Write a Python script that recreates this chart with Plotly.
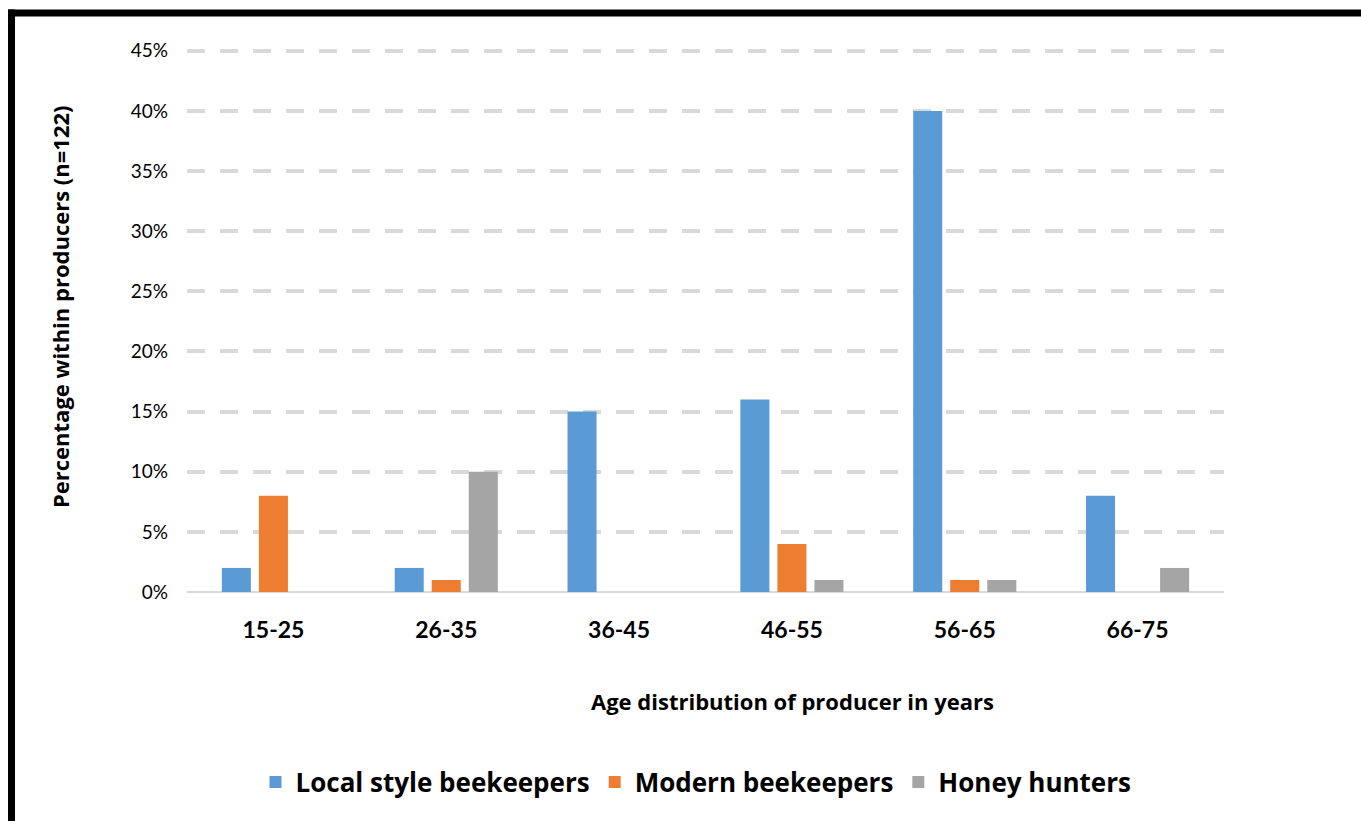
import plotly.graph_objects as go

categories = ["15-25", "26-35", "36-45", "46-55", "56-65", "66-75"]
local_style = [2, 2, 15, 16, 40, 8]
modern = [8, 1, 0, 4, 1, 0]
honey_hunters = [0, 10, 0, 1, 1, 2]

series_names = ["Local style beekeepers", "Modern beekeepers", "Honey hunters"]
colors = ["#5B9BD5", "#ED7D31", "#A5A5A5"]

FONT = "Lato"
TFONT = "Open Sans"
W, H = 1361, 821
YMAX = 45.15
L, R, B = 187, 137, 229
T = round(592 - 541 * YMAX / 45)
pw, ph = W - L - R, H - T - B


def px_x(x):
    return (x - L) / pw


def px_y(y):
    return (H - B - y) / ph


fig = go.Figure()
for name, vals, col in zip(series_names, [local_style, modern, honey_hunters], colors):
    fig.add_trace(go.Bar(
        x=categories, y=vals, name=name,
        marker=dict(color=col, line=dict(width=0)),
    ))

fig.update_layout(
    width=W, height=H,
    margin=dict(l=L, r=R, t=T, b=B),
    paper_bgcolor="white", plot_bgcolor="white",
    barmode="group", bargap=0.357, bargroupgap=0.216,
    font=dict(family=FONT, color="#000000"),
    showlegend=True,
    legend=dict(
        orientation="h", xanchor="center", yanchor="middle",
        x=px_x(696), y=px_y(782),
        font=dict(family=TFONT, size=26, color="#000000", weight="bold"),
        itemclick=False,
    ),
    xaxis=dict(
        showgrid=False, showline=False, ticks="",
        tickfont=dict(family=FONT, size=23, color="#000000", weight="bold"),
        ticklabelstandoff=22,
    ),
    yaxis=dict(
        range=[0, YMAX], dtick=5, tick0=0, ticksuffix="%",
        showgrid=True, gridcolor="#D9D9D9", gridwidth=4, griddash="18px,15px",
        zeroline=True, zerolinecolor="#D9D9D9", zerolinewidth=2,
        showline=False, ticks="",
        tickfont=dict(family=FONT, size=19, color="#000000"),
        ticklabelstandoff=18,
    ),
    annotations=[
        dict(text="<b>Age distribution of producer in years</b>", xref="paper", yref="paper",
             x=px_x(792), y=px_y(701), showarrow=False, xanchor="center", yanchor="middle",
             font=dict(family=TFONT, size=22, color="#000000")),
        dict(text="<b>Percentage within producers (n=122)</b>", xref="paper", yref="paper",
             x=px_x(60), y=px_y(307), showarrow=False, xanchor="center", yanchor="middle",
             textangle=-90, font=dict(family=TFONT, size=22, color="#000000")),
    ],
    shapes=[
        dict(type="line", xref="paper", yref="paper", x0=px_x(8), x1=px_x(1400),
             y0=px_y(13), y1=px_y(13), line=dict(color="black", width=7)),
        dict(type="line", xref="paper", yref="paper", x0=px_x(11.5), x1=px_x(11.5),
             y0=px_y(9.5), y1=px_y(840), line=dict(color="black", width=7)),
    ],
)

fig.write_html("out.html")
